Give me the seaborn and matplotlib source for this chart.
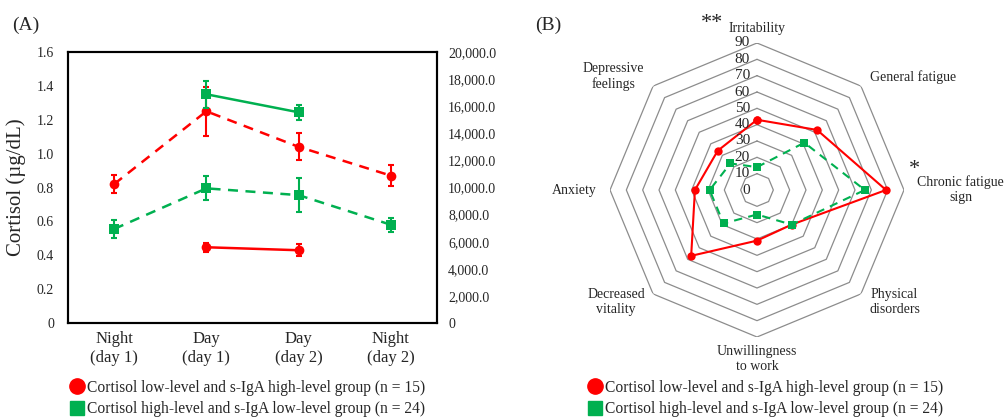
import numpy as np
import matplotlib
matplotlib.use("Agg")
import matplotlib.pyplot as plt
from matplotlib.lines import Line2D
from matplotlib.ticker import FuncFormatter
import seaborn as sns

# ---- datos panel (A) ----
momentos = ["Night\n(day 1)", "Day\n(day 1)", "Day\n(day 2)", "Night\n(day 2)"]
x_pos = np.arange(len(momentos))

cort_bajo = [0.82, 1.25, 1.04, 0.87]          # rojo, discontinuo
cort_bajo_err = [0.055, 0.145, 0.08, 0.06]
cort_alto = [0.555, 0.795, 0.755, 0.58]       # verde, discontinuo
cort_alto_err = [0.055, 0.07, 0.10, 0.04]

x_iga = x_pos[1:3]
iga_bajo = [5590, 5370]                        # rojo, continuo (eje derecho)
iga_bajo_err = [350, 440]
iga_alto = [16880, 15550]                      # verde, continuo (eje derecho)
iga_alto_err = [1000, 560]

# ---- datos panel (B) ----
categorias = ["Irritability", "General fatigue", "Chronic fatigue\nsign",
              "Physical\ndisorders", "Unwillingness\nto work", "Decreased\nvitality",
              "Anxiety", "Depressive\nfeelings"]
radar_rojo = [43, 52, 79, 30, 31, 57, 38, 34]
radar_verde = [14, 41, 66, 30, 15, 29, 29, 23]

ROJO = "#FF0000"
VERDE = "#00B050"
lab_rojo = "Cortisol low-level and s-IgA high-level group (n = 15)"
lab_verde = "Cortisol high-level and s-IgA low-level group (n = 24)"

sns.set_theme(style="white")
plt.rcParams["font.family"] = ["Liberation Serif", "DejaVu Serif"]

fig = plt.figure(figsize=(10.08, 4.17), dpi=100)

# ================= Panel A =================
ax = fig.add_axes([68 / 1008, 94 / 417, 369 / 1008, 271 / 417])
ax2 = ax.twinx()

sns.lineplot(x=x_pos, y=cort_bajo, ax=ax, color=ROJO, linestyle="--",
             marker="o", markersize=7, markeredgewidth=0, linewidth=1.8)
ax.get_lines()[-1].set_dashes([4, 3])
ax.errorbar(x_pos, cort_bajo, yerr=cort_bajo_err, fmt="none", ecolor=ROJO,
            elinewidth=1.5, capsize=2.5, capthick=1.5)

sns.lineplot(x=x_pos, y=cort_alto, ax=ax, color=VERDE, linestyle="--",
             marker="s", markersize=7, markeredgewidth=0, linewidth=1.8)
ax.get_lines()[-1].set_dashes([4, 3])
ax.errorbar(x_pos, cort_alto, yerr=cort_alto_err, fmt="none", ecolor=VERDE,
            elinewidth=1.5, capsize=2.5, capthick=1.5)

sns.lineplot(x=x_iga, y=iga_bajo, ax=ax2, color=ROJO, marker="o", markersize=7,
             markeredgewidth=0, linewidth=1.8)
ax2.errorbar(x_iga, iga_bajo, yerr=iga_bajo_err, fmt="none", ecolor=ROJO,
             elinewidth=1.5, capsize=2.5, capthick=1.5)
sns.lineplot(x=x_iga, y=iga_alto, ax=ax2, color=VERDE, marker="s", markersize=7,
             markeredgewidth=0, linewidth=1.8)
ax2.errorbar(x_iga, iga_alto, yerr=iga_alto_err, fmt="none", ecolor=VERDE,
             elinewidth=1.5, capsize=2.5, capthick=1.5)

ax.set_xlim(-0.5, 3.5)
ax.set_ylim(0, 1.6)
ax2.set_ylim(0, 20000)
ax.set_xticks(x_pos)
ax.set_xticklabels(momentos, fontsize=12)
ax.set_yticks(np.arange(0, 1.61, 0.2))
ax.yaxis.set_major_formatter(FuncFormatter(lambda v, p: "0" if v == 0 else f"{v:.1f}"))
ax2.set_yticks(np.arange(0, 20001, 2000))
ax2.yaxis.set_major_formatter(FuncFormatter(lambda v, p: "0" if v == 0 else f"{v:,.1f}"))
ax.tick_params(axis="y", length=0, pad=10, labelsize=10)
ax.tick_params(axis="x", length=0, pad=6)
ax2.tick_params(axis="y", length=0, pad=8, labelsize=10)
ax.set_ylabel("Cortisol (µg/dL)", fontsize=15, labelpad=8)
ax.set_xlabel("")
for a in (ax, ax2):
    for s in a.spines.values():
        s.set_color("black")
        s.set_linewidth(1.5)

# ================= Panel B =================
pax = fig.add_axes([610 / 1008, 80 / 417, 294 / 1008, 294 / 417], projection="polar")
pax.set_theta_zero_location("N")
pax.set_theta_direction(-1)
angulos = np.linspace(0, 2 * np.pi, len(categorias), endpoint=False)
ang_cerrado = np.append(angulos, angulos[0] + 2 * np.pi)

for r in range(10, 100, 10):
    pax.plot(ang_cerrado, [r] * len(ang_cerrado), color="#8C8C8C", linewidth=0.9, zorder=1)

for r in range(0, 100, 10):
    pax.annotate(str(r), xy=(0, r), xytext=(-5, 0), textcoords="offset points",
                 ha="right", va="center", fontsize=11)

sns.lineplot(x=ang_cerrado, y=radar_verde + radar_verde[:1], ax=pax, sort=False,
             estimator=None, color=VERDE, marker="s", markersize=6, markeredgewidth=0,
             linewidth=1.5, zorder=3)
pax.get_lines()[-1].set_dashes([4, 3])
sns.lineplot(x=ang_cerrado, y=radar_rojo + radar_rojo[:1], ax=pax, sort=False,
             estimator=None, color=ROJO, marker="o", markersize=6, markeredgewidth=0,
             linewidth=1.5, zorder=2)

pax.set_ylim(0, 90)
pax.grid(False)
pax.spines["polar"].set_visible(False)
pax.set_xticks([])
pax.set_yticks([])
pax.set_xlabel("")
pax.set_ylabel("")
pax.patch.set_alpha(0)

# etiquetas de categorias
pos_lab = [(99, "center", "center"), (98, "left", "center"), (98, "left", "center"),
           (97, "left", "center"), (95, "center", "top"), (97, "right", "center"),
           (98, "right", "center"), (98, "right", "center")]
for ang, txt, (r, ha, va) in zip(angulos, categorias, pos_lab):
    pax.text(ang, r, txt, ha=ha, va=va, fontsize=10, multialignment="center")

fig.text(712 / 1008, 1 - 24 / 417, "**", fontsize=16, ha="center", va="center")
fig.text(914 / 1008, 1 - 170 / 417, "*", fontsize=16, ha="center", va="center")

# paneles
fig.text(12 / 1008, 1 - 25 / 417, "(A)", fontsize=14, ha="left", va="center")
fig.text(535 / 1008, 1 - 25 / 417, "(B)", fontsize=14, ha="left", va="center")

# leyendas
handles = [Line2D([], [], color=ROJO, marker="o", linestyle="none", markersize=11),
           Line2D([], [], color=VERDE, marker="s", linestyle="none", markersize=10)]
for cx in (248, 766):
    fig.legend(handles, [lab_rojo, lab_verde], loc="upper center",
               bbox_to_anchor=(cx / 1008, 1 - 372 / 417), frameon=False, fontsize=11.2,
               handlelength=0.8, handletextpad=0.3, labelspacing=0.35, borderpad=0)

fig.savefig("out.png", dpi=100)
